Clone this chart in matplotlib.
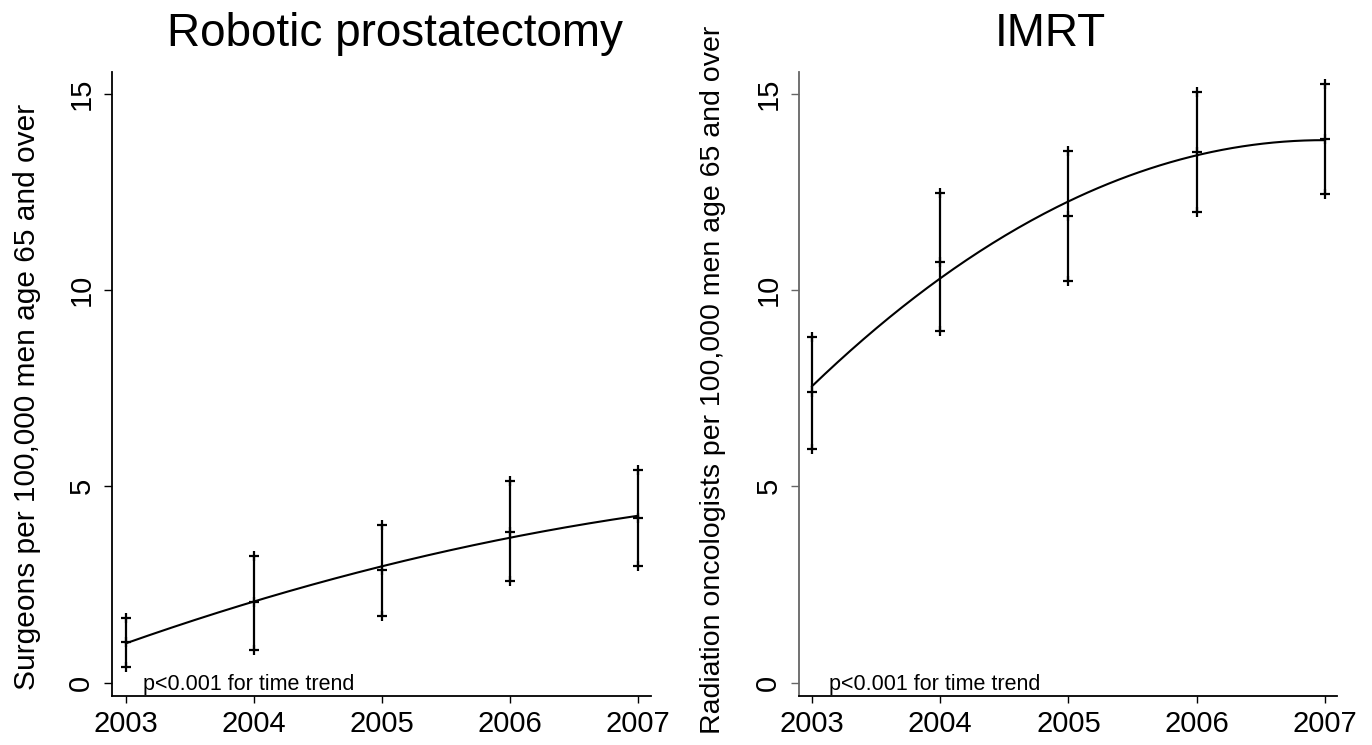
import numpy as np
import matplotlib
matplotlib.use("Agg")
import matplotlib.pyplot as plt

plt.rcParams["font.family"] = ["Liberation Sans", "DejaVu Sans"]

years = [2003, 2004, 2005, 2006, 2007]

# robotic prostatectomy: surgeons per 100,000 men 65+
robot_mean = [1.03, 2.05, 2.86, 3.85, 4.19]
robot_low = [0.40, 0.82, 1.69, 2.58, 2.96]
robot_high = [1.66, 3.22, 4.02, 5.13, 5.42]

# IMRT: radiation oncologists per 100,000 men 65+
imrt_mean = [7.40, 10.72, 11.88, 13.51, 13.84]
imrt_low = [5.96, 8.96, 10.23, 12.00, 12.45]
imrt_high = [8.81, 12.48, 13.55, 15.04, 15.24]

yticks = [0, 5, 10, 15]
note = "p<0.001 for time trend"

W, H = 1372, 745
fig = plt.figure(figsize=(W / 100, H / 100), dpi=100)


def px_axes(x0, x1, y0, y1):
    # pixel box (top-left origin) -> figure fraction
    return fig.add_axes([x0 / W, 1 - y1 / H, (x1 - x0) / W, (y1 - y0) / H])


def panel(ax, mean, low, high, xlim, spine_col):
    x = np.array(years, dtype=float)
    ax.vlines(x, low, high, color="black", lw=1.6, zorder=2)
    for vals in (low, mean, high):
        ax.plot(x, vals, ls="none", marker="+", ms=7, mew=1.6, color="black", zorder=3)
    # quadratic fit of the yearly means
    coef = np.polyfit(x - 2005, mean, 2)
    xs = np.linspace(x[0], x[-1], 200)
    ax.plot(xs, np.polyval(coef, xs - 2005), color="black", lw=1.5, zorder=4)

    ax.set_xlim(*xlim)
    ax.set_ylim(-0.339, 15.54)
    ax.set_xticks(years)
    ax.set_yticks(yticks)
    ax.set_yticklabels([str(t) for t in yticks], rotation=90, va="center")
    ax.tick_params(axis="x", length=5, width=1, labelsize=21, pad=5)
    ax.tick_params(axis="y", length=6, width=1, labelsize=21, pad=6, color=spine_col)
    for s in ("top", "right"):
        ax.spines[s].set_visible(False)
    ax.spines["left"].set_color(spine_col)
    ax.spines["left"].set_linewidth(1.3)
    ax.spines["bottom"].set_linewidth(1.3)
    ax.text(2003.13, -0.19, note, fontsize=15.5, ha="left", va="baseline")


ax1 = px_axes(112, 651, 72.5, 696)
panel(ax1, robot_mean, robot_low, robot_high, (2002.891, 2007.101), "black")

ax2 = px_axes(799, 1337, 72.5, 696)
panel(ax2, imrt_mean, imrt_low, imrt_high, (2002.899, 2007.094), "#666666")

fig.text(395 / W, 1 - 34 / H, "Robotic prostatectomy", fontsize=33, ha="center", va="center")
fig.text(1050 / W, 1 - 34 / H, "IMRT", fontsize=33, ha="center", va="center")

fig.text(27 / W, 1 - 397 / H, "Surgeons per 100,000 men age 65 and over",
         fontsize=21.5, rotation=90, ha="center", va="center")
fig.text(713 / W, 1 - 380 / H, "Radiation oncologists per 100,000 men age 65 and over",
         fontsize=20.5, rotation=90, ha="center", va="center")

fig.savefig("out.png", dpi=100)
